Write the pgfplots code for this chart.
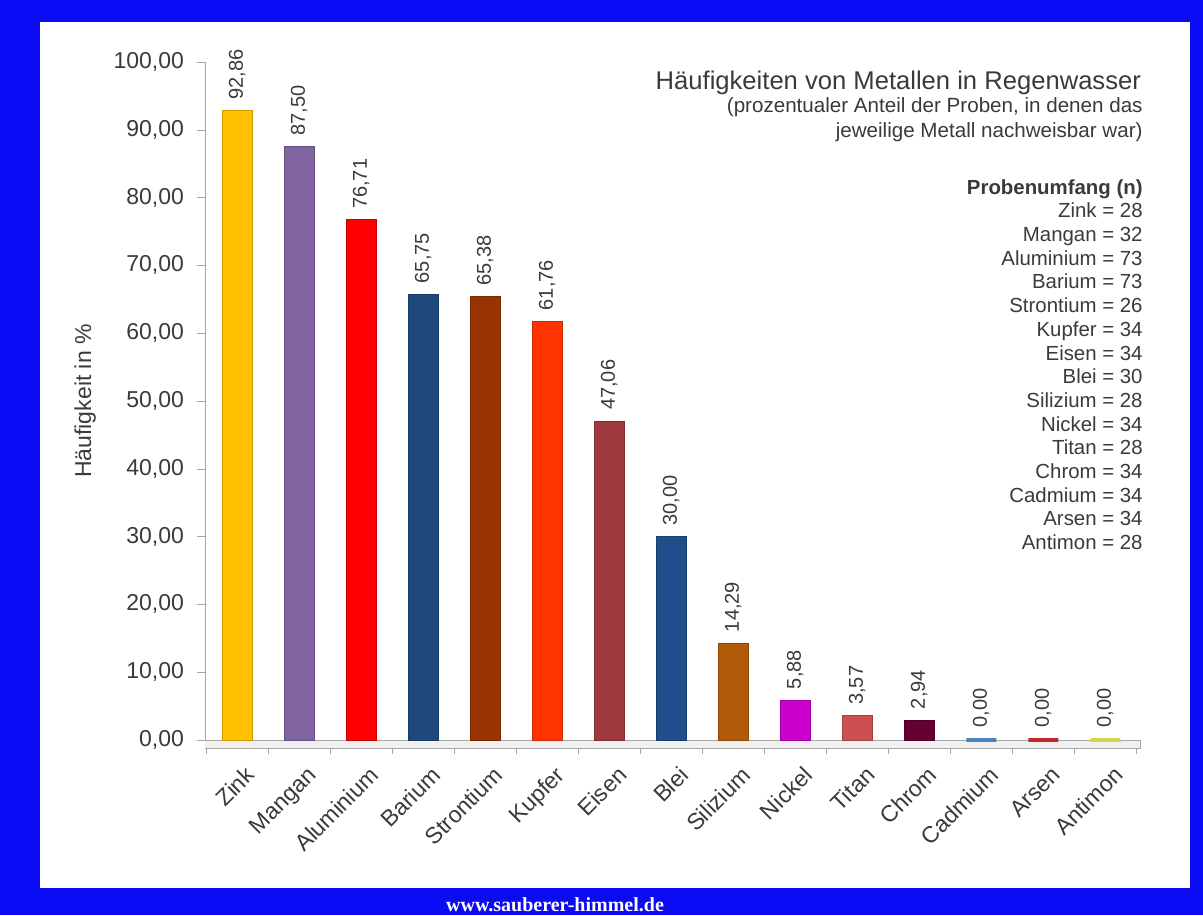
\documentclass[border=0pt]{standalone}
\usepackage{pgfplots}
\pgfplotsset{compat=1.18}
\usepackage{fontspec}
\setmainfont{Liberation Sans}
\newfontfamily\footfont{Liberation Serif}
\definecolor{frameblue}{HTML}{0A0AF5}
\definecolor{txt}{HTML}{3A3A3A}
\definecolor{cZink}{HTML}{FFC000}
\definecolor{cMangan}{HTML}{8064A2}
\definecolor{cAlu}{HTML}{FF0000}
\definecolor{cBarium}{HTML}{1F497D}
\definecolor{cStron}{HTML}{993300}
\definecolor{cKupfer}{HTML}{FF3300}
\definecolor{cEisen}{HTML}{A0393D}
\definecolor{cBlei}{HTML}{1F4E8C}
\definecolor{cSili}{HTML}{B05A0A}
\definecolor{cNickel}{HTML}{CC00CC}
\definecolor{cTitan}{HTML}{CC5050}
\definecolor{cChrom}{HTML}{660033}
\definecolor{cCad}{HTML}{4F81BD}
\definecolor{cArsen}{HTML}{C0282D}
\definecolor{cAnti}{HTML}{D4D44A}
\begin{document}
\begin{tikzpicture}
\fill[frameblue] (0,0) rectangle (601.5pt,457.5pt);
\useasboundingbox (0,0) rectangle (601.5pt,457.5pt);
\fill[white] (20pt,13.5pt) rectangle (595pt,446.5pt);
\node[text=white,font=\footfont\bfseries\fontsize{10}{11}\selectfont] at (277.5pt,5pt) {www.sauberer-himmel.de};
\begin{axis}[
  at={(102.5pt,87.5pt)}, anchor=south west,
  scale only axis, width=467.5pt, height=339pt,
  ybar, bar width=15pt, bar shift=0pt,
  xmin=-0.52, xmax=14.56, ymin=0, ymax=100,
  axis lines=left, axis line style={gray!70,-}, 
  x axis line style={draw=none},
  ytick={0,10,...,100},
  yticklabel={\pgfmathprintnumber[fixed,fixed zerofill,precision=2,use comma]{\tick}},
  /pgf/number format/assume math mode=true,
  ticklabel style={text=txt},
  yticklabel style={font=\fontsize{11.5}{13}\selectfont,xshift=-3pt},
  tick align=outside, major tick length=4pt,
  y tick style={gray!70},
  xtick={0,...,14},
  xticklabels={Zink,Mangan,Aluminium,Barium,Strontium,Kupfer,Eisen,Blei,Silizium,Nickel,Titan,Chrom,Cadmium,Arsen,Antimon},
  xticklabel style={rotate=45,anchor=north east,font=\fontsize{11.5}{13}\selectfont,yshift=-5pt},
  major x tick style={draw=none},
  minor xtick={-0.5,0.5,...,14.5},
  minor x tick style={gray!70}, minor tick length=7pt,
  ylabel={Häufigkeit in \%}, ylabel style={text=txt,font=\fontsize{11.5}{13}\selectfont},
  ylabel shift=2pt,
  nodes near coords={\pgfmathprintnumber[fixed,fixed zerofill,precision=2,use comma]{\pgfplotspointmeta}},
  nodes near coords style={rotate=90,anchor=west,font=\fontsize{10}{12}\selectfont,text=txt,xshift=2pt},
  clip=false,
]
\fill[gray!12] (axis cs:-0.52,0) rectangle (axis cs:14.56,-1.3);
\draw[gray!70] (axis cs:-0.52,0) -- (axis cs:14.56,0) -- (axis cs:14.56,-1.3) -- (axis cs:-0.52,-1.3);
\addplot[fill=cZink,draw=cZink!80!black] coordinates {(0,92.86)};
\addplot[fill=cMangan,draw=cMangan!80!black] coordinates {(1,87.50)};
\addplot[fill=cAlu,draw=cAlu!80!black] coordinates {(2,76.71)};
\addplot[fill=cBarium,draw=cBarium!80!black] coordinates {(3,65.75)};
\addplot[fill=cStron,draw=cStron!80!black] coordinates {(4,65.38)};
\addplot[fill=cKupfer,draw=cKupfer!80!black] coordinates {(5,61.76)};
\addplot[fill=cEisen,draw=cEisen!80!black] coordinates {(6,47.06)};
\addplot[fill=cBlei,draw=cBlei!80!black] coordinates {(7,30.00)};
\addplot[fill=cSili,draw=cSili!80!black] coordinates {(8,14.29)};
\addplot[fill=cNickel,draw=cNickel!80!black] coordinates {(9,5.88)};
\addplot[fill=cTitan,draw=cTitan!80!black] coordinates {(10,3.57)};
\addplot[fill=cChrom,draw=cChrom!80!black] coordinates {(11,2.94)};
\addplot[fill=cCad,draw=cCad,line width=2pt] coordinates {(12,0.00)};
\addplot[fill=cArsen,draw=cArsen,line width=2pt] coordinates {(13,0.00)};
\addplot[fill=cAnti,draw=cAnti,line width=2pt] coordinates {(14,0.00)};
\end{axis}
\node[anchor=east,text=txt,font=\fontsize{12.8}{15}\selectfont] at (574pt,416pt) {Häufigkeiten von Metallen in Regenwasser};
\node[anchor=north east,text=txt,font=\fontsize{10.3}{12.5}\selectfont,align=right,inner sep=0pt] at (571.5pt,409pt) {(prozentualer Anteil der Proben, in denen das\\jeweilige Metall nachweisbar war)};
\node[anchor=north east,text=txt,font=\fontsize{10.2}{11.85}\selectfont,align=right,inner sep=0pt] at (571.5pt,368pt) {\textbf{Probenumfang (n)}\\Zink = 28\\Mangan = 32\\Aluminium = 73\\Barium = 73\\Strontium = 26\\Kupfer = 34\\Eisen = 34\\Blei = 30\\Silizium = 28\\Nickel = 34\\Titan = 28\\Chrom = 34\\Cadmium = 34\\Arsen = 34\\Antimon = 28};
\end{tikzpicture}
\end{document}
